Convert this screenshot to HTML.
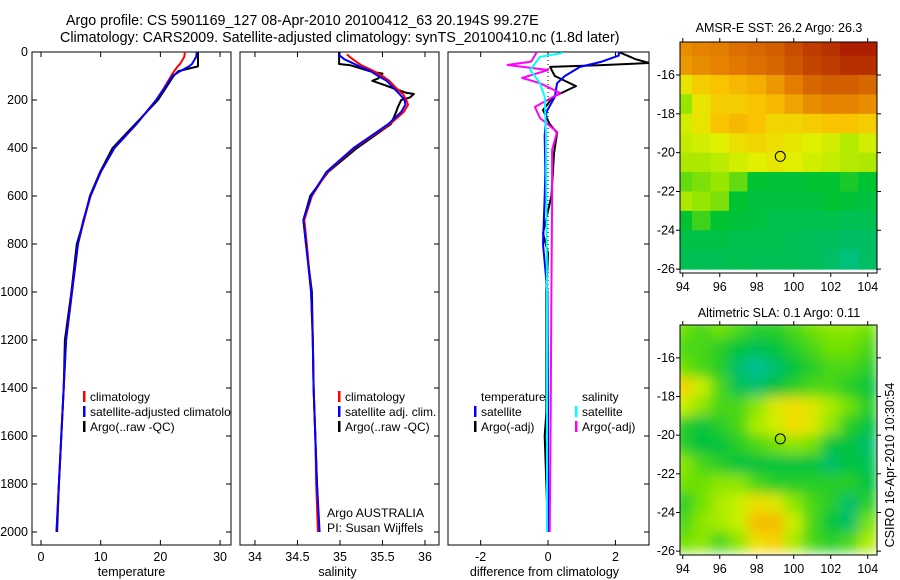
<!DOCTYPE html>
<html><head><meta charset="utf-8">
<style>
html,body{margin:0;padding:0;background:#fff;}
svg{display:block;font-family:"Liberation Sans",sans-serif;}
</style></head>
<body>
<svg id="chart" width="900" height="580" viewBox="0 0 900 580" xmlns="http://www.w3.org/2000/svg">
<defs>
<clipPath id="c1"><rect x="32" y="52" width="199" height="493"/></clipPath>
<clipPath id="c2"><rect x="240" y="52" width="199" height="493"/></clipPath>
<clipPath id="c3"><rect x="448" y="52" width="201" height="493"/></clipPath>
<clipPath id="m1"><rect x="680" y="42" width="197" height="231"/></clipPath>
<clipPath id="m2"><rect x="680" y="325" width="197" height="230"/></clipPath>
<filter id="blur"><feGaussianBlur stdDeviation="6"/></filter>
</defs>
<text x="66" y="25" font-size="14.3">Argo profile: CS 5901169_127 08-Apr-2010 20100412_63 20.194S 99.27E</text>
<text x="60" y="42" font-size="14.3">Climatology: CARS2009. Satellite-adjusted climatology: synTS_20100410.nc (1.8d later)</text>
<text x="779" y="32" font-size="12.5" text-anchor="middle">AMSR-E SST: 26.2 Argo: 26.3</text>
<text x="779" y="317" font-size="12.5" text-anchor="middle">Altimetric SLA: 0.1 Argo: 0.11</text>
<text transform="translate(894,465) rotate(-90)" font-size="12.5" text-anchor="middle">CSIRO 16-Apr-2010 10:30:54</text>
<g id="g"></g>
</svg>
<script>
// ---- profile data ----
const tDepth = [0,20,50,60,80,100,150,200,300,400,500,600,700,800,1000,1200,1400,1600,1800,2000];
const tClim  = [24.1,24.0,23.3,22.9,22.3,21.8,20.6,19.3,16.0,12.3,10.0,8.3,7.2,6.2,5.2,4.2,3.8,3.4,3.0,2.6];
const tSat   = [26.1,26.0,25.3,24.8,23.3,22.0,20.7,19.3,16.0,12.3,10.0,8.3,7.1,6.2,5.2,4.2,3.8,3.4,3.0,2.6];
const tArgo  = [26.3,26.3,26.3,26.3,23.0,22.2,20.9,19.6,15.8,12.0,9.9,8.2,7.2,6.0,5.1,4.0,3.8,3.4,3.0,2.7];
const sDepth = [10,30,55,60,80,100,120,150,175,200,220,250,300,400,500,600,700,800,1000,1200,1400,1600,1800,2000];
const sClim  = [35.08,35.15,35.25,35.28,35.4,35.5,35.58,35.66,35.74,35.78,35.8,35.75,35.59,35.17,34.85,34.67,34.58,34.61,34.66,34.68,34.69,34.71,34.72,34.74];
const sSat   = [34.98,35.05,35.2,35.23,35.36,35.45,35.55,35.63,35.7,35.76,35.77,35.72,35.57,35.16,34.84,34.66,34.57,34.6,34.66,34.68,34.69,34.71,34.73,34.76];
const saDepth= [0,50,55,80,90,110,120,150,170,175,190,200,230,250,300,400,500,600,700,800,1000,1200,1400,1600,1800,2000];
const sArgo  = [34.99,34.99,35.12,35.35,35.5,35.45,35.38,35.62,35.78,35.87,35.82,35.72,35.68,35.66,35.6,35.2,34.86,34.65,34.57,34.6,34.67,34.68,34.69,34.71,34.73,34.75];
const dtsDepth=[0,15,40,62,100,130,187,250,350,500,600,800,1000,1500,2000];
const dTSat  = [2.1,2.1,1.6,0.95,0.5,0.27,0.2,-0.05,-0.1,-0.08,-0.1,-0.15,-0.02,0,0];
const dtaDepth=[0,30,46,55,62,100,142,187,242,300,337,420,600,755,838,1000,1500,1600,2000];
const dTArgo = [2.1,2.6,3.0,1.5,0.06,0.2,0.83,0.15,-0.15,0.05,0.27,0.18,0.1,-0.15,0,-0.05,-0.05,-0.1,0];
const dssDepth=[0,5,20,50,75,130,187,350,600,1000,2000];
const dSSat  = [0.4,0.4,-0.24,-0.4,-0.53,-0.24,-0.1,-0.06,-0.05,-0.03,-0.03];
const dsaDepth=[0,40,54,75,108,130,171,229,275,333,408,617,1000,1500,2000];
const dSArgo = [-0.33,-0.5,-1.2,0,-0.77,-0.24,0.36,-0.39,-0.24,0.27,0.12,0.12,0.1,0.08,0.05];
const depthTicks=[0,200,400,600,800,1000,1200,1400,1600,1800,2000];
const tTicks=[0,10,20,30];
const sTicks=[34,34.5,35,35.5,36];
const dTicks=[-2,0,2];
// ---- map data (1-degree cells, lon 94..104, lat -14.5..-25.5) ----
const mapLons=[94,95,96,97,98,99,100,101,102,103,104];
const mapLats=[-14,-15,-16,-17,-18,-19,-20,-21,-22,-23,-24,-25];
const sstGrid=[
[0.72,0.74,0.75,0.78,0.8,0.82,0.86,0.9,0.92,0.95,0.95],
[0.7,0.72,0.74,0.76,0.78,0.8,0.84,0.88,0.9,0.92,0.92],
[0.55,0.6,0.62,0.64,0.66,0.7,0.75,0.8,0.82,0.82,0.8],
[0.42,0.55,0.6,0.6,0.62,0.64,0.68,0.72,0.74,0.74,0.72],
[0.5,0.55,0.62,0.64,0.62,0.58,0.58,0.6,0.62,0.62,0.6],
[0.48,0.5,0.52,0.56,0.58,0.56,0.54,0.52,0.5,0.46,0.5],
[0.45,0.45,0.47,0.5,0.52,0.54,0.52,0.5,0.48,0.46,0.45],
[0.38,0.4,0.42,0.38,0.3,0.28,0.28,0.3,0.3,0.32,0.3],
[0.45,0.42,0.4,0.3,0.25,0.25,0.25,0.25,0.3,0.28,0.25],
[0.3,0.35,0.3,0.28,0.25,0.2,0.2,0.2,0.2,0.18,0.18],
[0.22,0.22,0.22,0.2,0.2,0.2,0.18,0.16,0.15,0.12,0.12],
[0.18,0.18,0.18,0.2,0.18,0.18,0.18,0.16,0.12,0.08,0.12]];
const slaGrid=[
[0.45,0.4,0.45,0.4,0.35,0.35,0.4,0.45,0.5,0.5,0.45],
[0.4,0.4,0.35,0.3,0.25,0.3,0.35,0.4,0.45,0.45,0.4],
[0.45,0.4,0.35,0.2,0.1,0.2,0.3,0.35,0.4,0.4,0.35],
[0.75,0.6,0.4,0.25,0.2,0.3,0.35,0.4,0.4,0.35,0.3],
[0.6,0.5,0.4,0.4,0.5,0.65,0.7,0.65,0.55,0.45,0.35],
[0.35,0.3,0.35,0.4,0.55,0.62,0.72,0.65,0.5,0.35,0.3],
[0.35,0.3,0.3,0.35,0.4,0.45,0.5,0.45,0.3,0.3,0.2],
[0.5,0.4,0.35,0.3,0.3,0.3,0.3,0.3,0.2,0.3,0.25],
[0.45,0.45,0.5,0.5,0.4,0.35,0.35,0.35,0.35,0.35,0.3],
[0.35,0.45,0.55,0.6,0.7,0.65,0.5,0.4,0.35,0.2,0.35],
[0.4,0.5,0.55,0.6,0.8,0.8,0.6,0.4,0.3,0.2,0.45],
[0.45,0.5,0.4,0.5,0.7,0.75,0.55,0.4,0.35,0.4,0.55]];
const argoLon=99.27, argoLat=-20.194;
const lonTicks=[94,96,98,100,102,104];
const latTicks=[-16,-18,-20,-22,-24,-26];

const NS='http://www.w3.org/2000/svg';
const G=document.getElementById('g');
function mk(tag,attrs,parent){const e=document.createElementNS(NS,tag);for(const k in attrs)e.setAttribute(k,attrs[k]);(parent||G).appendChild(e);return e;}
function txt(s,x,y,anchor,size,parent){const e=mk('text',{x:x,y:y,'text-anchor':anchor||'start','font-size':size||12},parent);e.textContent=s;return e;}

const yTop=52,yBot=545;
const yD=d=>yTop+d*0.24;
const panels=[
 {x0:32,x1:231,v0:-1.508,v1:31.83,clip:'c1',ticks:tTicks,label:'temperature',name:'temperature'},
 {x0:240,x1:439,v0:33.824,v1:36.165,clip:'c2',ticks:sTicks,label:'salinity',name:'salinity'},
 {x0:448,x1:649,v0:-2.97,v1:2.997,clip:'c3',ticks:dTicks,label:'difference from climatology',name:'difference'}];
panels.forEach(p=>{p.sx=v=>p.x0+(v-p.v0)/(p.v1-p.v0)*(p.x1-p.x0);});

function line(p,depths,vals,color,name){
  const pts=depths.map((d,i)=>p.sx(vals[i]).toFixed(1)+','+yD(d).toFixed(1)).join(' ');
  const e=mk('polyline',{points:pts,fill:'none',stroke:color,'stroke-width':2,'stroke-linejoin':'round','clip-path':'url(#'+p.clip+')'});
  
  
}

panels.forEach((p,pi)=>{
  const r=mk('rect',{x:p.x0,y:yTop,width:p.x1-p.x0,height:yBot-yTop,fill:'#fff',stroke:'#000','stroke-width':1});
  
  
  p.ticks.forEach(t=>{
    const x=p.sx(t);
    mk('line',{x1:x,x2:x,y1:yBot,y2:yBot-5,stroke:'#000'});
    mk('line',{x1:x,x2:x,y1:yTop,y2:yTop+5,stroke:'#000'});
    const tl=txt(String(t),x,561,'middle',12.5);
    
    
  });
  depthTicks.forEach(d=>{
    const y=yD(d);
    mk('line',{x1:p.x1,x2:p.x1-5,y1:y,y2:y,stroke:'#000'});
    if(pi===0){
      mk('line',{x1:p.x0,x2:p.x0+5,y1:y,y2:y,stroke:'#000'});
      const tl=txt(String(d),28,y+4,'end',12.5);
      
      
    }
  });
  const xl=txt(p.label,(p.x0+p.x1)/2-pi*2,576,'middle',12.5);
  
  
});

// panel 1
line(panels[0],tDepth,tArgo,'#000','temp-argo-line');
line(panels[0],tDepth,tClim,'#f00','temp-climatology-line');
line(panels[0],tDepth,tSat,'#00f','temp-satellite-line');
// panel 2
line(panels[1],saDepth,sArgo,'#000','sal-argo-line');
line(panels[1],sDepth,sClim,'#f00','sal-climatology-line');
line(panels[1],sDepth,sSat,'#00f','sal-satellite-line');
// panel 3
{const x=panels[2].sx(0);const z=mk('line',{x1:x,x2:x,y1:yTop,y2:yD(2000),stroke:'#000','stroke-dasharray':'1,3'});

}
line(panels[2],dtaDepth,dTArgo,'#000','diff-temp-argo-line');
line(panels[2],dtsDepth,dTSat,'#00f','diff-temp-satellite-line');
line(panels[2],dsaDepth,dSArgo,'#f0f','diff-sal-argo-line');
line(panels[2],dssDepth,dSSat,'#0ff','diff-sal-satellite-line');

function legend(x,y,items,clip){
  const lg=mk('g',{'clip-path':'url(#'+clip+')'});
  
  
  items.forEach((it,i)=>{
    const yy=y+i*15;
    if(it[1]){const b=mk('rect',{x:x,y:yy-6,width:2.5,height:11,fill:it[1]},lg);
      
      }
    const t=txt(it[0],x+(it[1]?7:7),yy+4,'start',12,lg);
    
    
  });
}
legend(83,397,[['climatology','#f00'],['satellite-adjusted climatology','#00f'],['Argo(..raw -QC)','#000']],'c1');
legend(338,397,[['climatology','#f00'],['satellite adj. clim.','#00f'],['Argo(..raw -QC)','#000']],'c2');
legend(474,397,[['temperature',null],['satellite','#00f'],['Argo(-adj)','#000']],'c3');
legend(575,397,[['salinity',null],['satellite','#0ff'],['Argo(-adj)','#f0f']],'c3');
{const a=txt('Argo AUSTRALIA',327,517,'start',12.3);
 const b=txt('PI: Susan Wijffels',327,532,'start',12.3);}

// ---- maps ----
function lerpC(stops,v){
  v=Math.max(0,Math.min(1,v));
  for(let i=1;i<stops.length;i++){if(v<=stops[i][0]){const a=stops[i-1],b=stops[i],t=(v-a[0])/(b[0]-a[0]);
    return 'rgb('+[0,1,2].map(k=>Math.round(a[1][k]+(b[1][k]-a[1][k])*t)).join(',')+')';}}
  return 'rgb('+stops[stops.length-1][1].join(',')+')';
}
const palSST=[[0,[0,200,170]],[0.12,[0,190,100]],[0.3,[0,195,50]],[0.42,[150,230,0]],[0.52,[225,240,0]],[0.62,[250,195,0]],[0.76,[225,120,0]],[0.9,[190,60,0]],[1,[160,0,0]]];
const palSLA=[[0,[0,200,190]],[0.15,[0,190,130]],[0.3,[0,195,60]],[0.45,[110,225,0]],[0.6,[200,240,0]],[0.72,[245,220,0]],[0.85,[245,170,0]],[1,[230,110,0]]];
function map(y0,y1,grid,clip,name,smooth,pal){
  const x0=680,x1=877;
  const sx=lon=>x0+(lon-93.85)/(104.5-93.85)*(x1-x0);
  const sy=lat=>y0+(-14.3-lat)/(26.2-14.3)*(y1-y0);
  const g=mk('g',{'clip-path':'url(#'+clip+')'});
  
  
  const inner=smooth?mk('g',{filter:'url(#blur)'},g):g;
  grid.forEach((row,ri)=>row.forEach((v,ci)=>{
    const lon=mapLons[ci],lat=mapLats[ri];
    const c=mk('rect',{x:sx(lon-0.5),y:sy(lat),width:sx(lon+0.5)-sx(lon-0.5)+0.5,height:sy(lat-1)-sy(lat)+0.5,fill:lerpC(pal,v)},inner);
    
    
  }));
  const fr=mk('rect',{x:x0,y:y0,width:x1-x0,height:y1-y0,fill:'none',stroke:'#000'});
  
  
  lonTicks.forEach(l=>{const x=sx(l);mk('line',{x1:x,x2:x,y1:y1,y2:y1+4,stroke:'#000'});mk('line',{x1:x,x2:x,y1:y0,y2:y0-4,stroke:'#000'});
    const t=txt(String(l),x,y1+18,'middle',12.5);});
  latTicks.forEach(l=>{const y=sy(l);mk('line',{x1:x0,x2:x0-4,y1:y,y2:y,stroke:'#000'});mk('line',{x1:x1,x2:x1+4,y1:y,y2:y,stroke:'#000'});
    const t=txt(String(l),675,y+4,'end',12.5);});
  const m=mk('circle',{cx:sx(argoLon),cy:sy(argoLat),r:5,fill:'none',stroke:'#000'});
  
  
}
map(42,273,sstGrid,'m1','sst',false,palSST);
map(325,555,slaGrid,'m2','sla',true,palSLA);
</script>
</body></html>
